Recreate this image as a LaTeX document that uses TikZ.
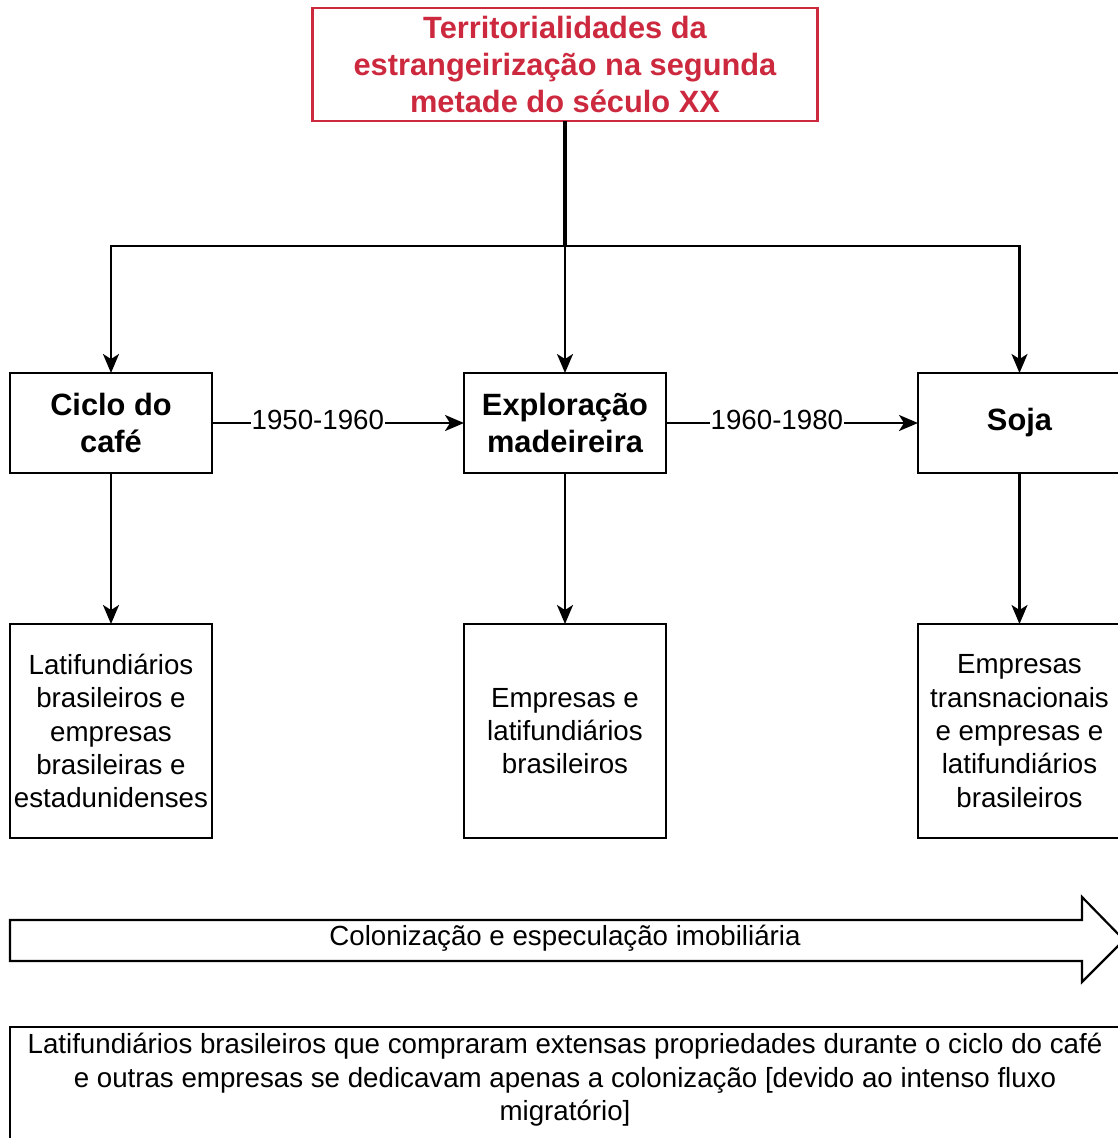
\documentclass[tikz,border=0pt]{standalone}
\usepackage{fontspec}
\setmainfont{Liberation Sans}
\usetikzlibrary{arrows.meta}
\definecolor{titlered}{RGB}{204,40,62}
\begin{document}
\begin{tikzpicture}[x=1pt,y=-1pt,
  every node/.style={inner sep=0pt, outer sep=0pt},
  plain/.style={font=\fontsize{27.7}{33.4}\selectfont, align=center},
  box/.style={plain, draw, line width=2.2pt, rectangle, minimum width=202pt},
  head/.style={box, minimum height=100pt, font=\fontsize{30.8}{37}\selectfont\bfseries},
  leaf/.style={box, minimum height=214pt},
  link/.style={line width=2.2pt, -{Stealth[length=19pt,width=16pt,inset=5pt]}},
  yearlabel/.style={plain, fill=white, inner sep=1pt, yshift=3pt}
]
\useasboundingbox (0,0) rectangle (1118,1138);

% title
\node[draw=titlered, text=titlered, line width=2.2pt, minimum width=505pt, minimum height=113pt,
      align=center, font=\fontsize{30.8}{37}\selectfont\bfseries] (title) at (565,64.5)
  {Territorialidades da\\estrangeirização na segunda\\metade do século XX};

% periods
\node[head] (cafe) at (111,423) {Ciclo do\\café};
\node[head] (madeira) at (565,423) {Exploração\\madeireira};
\node[head, minimum width=203pt] (soja) at (1019.5,423) {Soja};

% actors
\node[leaf] (l1) at (111,731) {Latifundiários\\brasileiros e\\empresas\\brasileiras e\\estadunidenses};
\node[leaf] (l2) at (565,731) {Empresas e\\latifundiários\\brasileiros};
\node[leaf, minimum width=203pt] (l3) at (1019.5,731) {Empresas\\transnacionais\\e empresas e\\latifundiários\\brasileiros};

% distribution from the title
\coordinate (bus) at (565,246);
\draw[line width=4.5pt] (title.south) -- (bus);
\draw[link] (bus) -| (cafe.north);
\draw[link] (bus) -- (madeira.north);
\draw[link] (bus) -| (soja.north);

% timeline
\draw[link] (cafe.east) -- (madeira.west) node[yearlabel, pos=0.42] {1950-1960};
\draw[link] (madeira.east) -- (soja.west) node[yearlabel, pos=0.44] {1960-1980};

% periods to actors
\draw[link] (cafe.south) -- (l1.north);
\draw[link] (madeira.south) -- (l2.north);
\draw[link] (soja.south) -- (l3.north);

% block arrow
\draw[line width=2.2pt, fill=white, line join=miter]
  (10,920) -- (1082,920) -- (1082,897) -- (1124,940) -- (1082,982) -- (1082,961) -- (10,961) -- cycle;
\node[plain] (flow) at (565,938) {Colonização e especulação imobiliária};

% note
\node[draw, line width=2.2pt, anchor=north west, minimum width=1120pt, minimum height=140pt] (note) at (10,1027) {};
\node[plain] (notetext) at (565,1080)
  {Latifundiários brasileiros que compraram extensas propriedades durante o ciclo do café\\
   e outras empresas se dedicavam apenas a colonização [devido ao intenso fluxo\\
   migratório]};
\end{tikzpicture}
\end{document}
